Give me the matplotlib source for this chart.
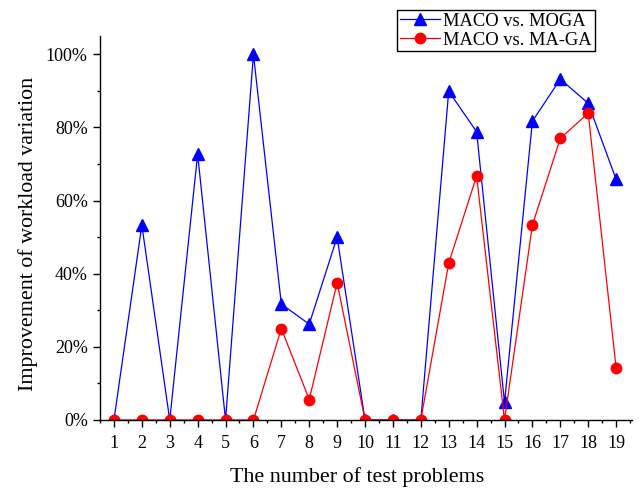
import matplotlib
matplotlib.use("Agg")
import matplotlib.pyplot as plt
from matplotlib.ticker import MultipleLocator, FuncFormatter

problems = list(range(1, 20))
moga = [0, 53.3, 0, 72.7, 0, 100, 31.7, 26.2, 50.0, 0, 0, 0, 89.9, 78.8, 4.8, 81.7, 93.2, 86.6, 65.8]
maga = [0, 0, 0, 0, 0, 0, 25.0, 5.6, 37.5, 0, 0, 0, 42.9, 66.7, 0, 53.3, 77.0, 83.9, 14.3]

plt.rcParams['font.family'] = ['Liberation Serif', 'DejaVu Serif']

fig = plt.figure(figsize=(6.39, 4.93), dpi=100)
ax = fig.add_axes([100/639, 1-420/493, (632-100)/639, (420-36)/493])

ax.plot(problems, moga, color='blue', lw=0.9, marker='^', ms=8.5, label='MACO vs. MOGA', zorder=3)
ax.plot(problems, maga, color='red', lw=0.9, marker='o', ms=7.5, label='MACO vs. MA-GA', zorder=4)

ax.set_xlim(0.5, 19.57)
ax.set_ylim(0, 105)
ax.set_xticks(problems)
ax.xaxis.set_minor_locator(MultipleLocator(0.5))
ax.yaxis.set_major_locator(MultipleLocator(20))
ax.yaxis.set_minor_locator(MultipleLocator(10))
ax.yaxis.set_major_formatter(FuncFormatter(lambda v, p: f"{v:.0f}%"))
ax.spines['top'].set_visible(False)
ax.spines['right'].set_visible(False)
for s in ['left', 'bottom']:
    ax.spines[s].set_linewidth(1.0)
    ax.spines[s].set_zorder(5)
ax.tick_params(which='major', direction='out', length=4.8, width=1, labelsize=13)
ax.tick_params(which='minor', direction='out', length=2.5, width=1)
ax.tick_params(axis='x', pad=6)
ax.tick_params(axis='y', pad=4)

ax.set_xlabel('The number of test problems', fontsize=15.8, labelpad=11)
ax.xaxis.label.set_x((357-100)/532)
ax.set_ylabel('Improvement of workload variation', fontsize=15.8, labelpad=6)
ax.yaxis.label.set_y((420-234)/384)

leg = fig.legend(loc='upper left', bbox_to_anchor=(397/639, 1-10/493), fontsize=13.3,
                 frameon=True, fancybox=False, edgecolor='black', framealpha=1,
                 handlelength=2.2, handletextpad=0.15, borderpad=0.15, labelspacing=0.1,
                 borderaxespad=0)
leg.get_frame().set_linewidth(1.0)

fig.savefig('out.png', dpi=100)
